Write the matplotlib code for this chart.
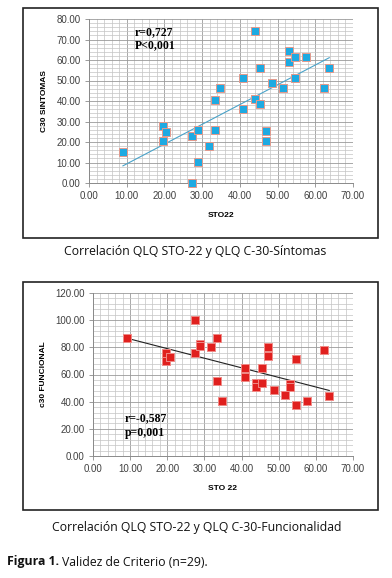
import numpy as np
import matplotlib
matplotlib.use("Agg")
import matplotlib.pyplot as plt
from matplotlib.patches import Rectangle
from matplotlib.ticker import MultipleLocator, FormatStrFormatter

# ---- data ----
sto22_top = [9.0, 19.6, 19.6, 20.5, 27.2, 27.3, 28.8, 28.8, 31.7, 33.3, 33.3, 34.7,
             40.8, 40.8, 43.9, 43.9, 45.4, 45.4, 46.9, 46.9, 48.5, 51.5, 53.0, 53.0,
             54.6, 54.6, 57.6, 62.2, 63.7]
c30_sintomas = [15.2, 27.9, 20.4, 24.7, 22.9, 0.0, 25.8, 10.4, 18.0, 40.5, 25.8, 46.2,
                51.1, 35.9, 41.0, 74.3, 56.2, 38.5, 25.6, 20.6, 48.8, 46.2, 64.2, 58.8,
                61.6, 51.3, 61.6, 46.2, 56.2]

sto22_bot = [9.2, 19.7, 19.7, 20.7, 27.4, 27.4, 28.8, 28.8, 31.9, 33.4, 33.4, 34.8,
             41.0, 41.0, 43.9, 43.9, 45.5, 45.5, 47.1, 47.1, 48.6, 51.6, 53.1, 53.1,
             54.6, 54.6, 57.6, 62.1, 63.6]
c30_funcional = [86.9, 75.8, 69.7, 72.9, 100.1, 75.8, 82.7, 80.7, 80.2, 86.9, 55.5, 40.2,
                 64.8, 58.2, 53.7, 51.0, 53.7, 64.5, 80.2, 73.4, 48.8, 44.7, 53.3, 51.0,
                 71.4, 37.8, 40.2, 77.8, 44.4]

W, H = 392, 578
fig = plt.figure(figsize=(W / 100, H / 100), dpi=100)

def px_rect(x0, y0, x1, y1):
    return [x0 / W, 1 - y1 / H, (x1 - x0) / W, (y1 - y0) / H]

# frames
for (x0, y0, x1, y1) in [(23, 8, 378, 238), (23, 282, 378, 510)]:
    fig.patches.append(Rectangle((x0 / W, 1 - y1 / H), (x1 - x0) / W, (y1 - y0) / H,
                                 transform=fig.transFigure, fill=False,
                                 edgecolor="#222222", linewidth=1.2))

tick_font = dict(family="Liberation Sans", size=7, color="#404040")

def setup(ax, ymax, ymaj, ymin):
    ax.set_xlim(0, 70)
    ax.set_ylim(0, ymax)
    ax.xaxis.set_major_locator(MultipleLocator(10))
    ax.xaxis.set_minor_locator(MultipleLocator(2))
    ax.yaxis.set_major_locator(MultipleLocator(ymaj))
    ax.yaxis.set_minor_locator(MultipleLocator(ymin))
    ax.xaxis.set_major_formatter(FormatStrFormatter("%.2f"))
    ax.yaxis.set_major_formatter(FormatStrFormatter("%.2f"))
    ax.grid(which="major", color="#9a9a9a", linewidth=0.6)
    ax.grid(which="minor", color="#c4c4c4", linewidth=0.5)
    ax.set_axisbelow(True)
    for s in ["top", "right"]:
        ax.spines[s].set_visible(False)
    for s in ["left", "bottom"]:
        ax.spines[s].set_color("#8a8a8a")
        ax.spines[s].set_linewidth(0.7)
    ax.tick_params(which="major", length=3, width=0.6, color="#8a8a8a", pad=3)
    ax.tick_params(which="minor", length=0)
    for lab in ax.get_xticklabels() + ax.get_yticklabels():
        lab.set_fontfamily(tick_font["family"])
        lab.set_fontsize(tick_font["size"])
        lab.set_color(tick_font["color"])

# top chart
ax1 = fig.add_axes(px_rect(89, 19, 353, 183))
setup(ax1, 80, 10, 2)
x1 = np.array(sto22_top); y1 = np.array(c30_sintomas)
m, b = np.polyfit(x1, y1, 1)
xs = np.array([x1.min(), x1.max()])
ax1.plot(xs, m * xs + b, color="#4aa3c9", linewidth=0.8, zorder=2)
ax1.scatter(x1, y1, marker="s", s=34, facecolor="#1eaae2", edgecolor="#e49a8c",
            linewidth=0.7, zorder=3, clip_on=False)
ax1.set_xlabel("STO22", fontfamily="Liberation Sans", fontweight="bold", fontsize=6, labelpad=8)
ax1.set_ylabel("C30 SINTOMAS", fontfamily="Liberation Sans", fontweight="bold", fontsize=6, labelpad=6)
ax1.text(135 / W, 1 - 32 / H, "r=0,727", transform=fig.transFigure, family="Liberation Serif",
         fontweight="bold", fontsize=8.5, va="center", ha="left")
ax1.text(135 / W, 1 - 45 / H, "P<0,001", transform=fig.transFigure, family="Liberation Serif",
         fontweight="bold", fontsize=8.5, va="center", ha="left")

# bottom chart
ax2 = fig.add_axes(px_rect(93, 293, 353, 456))
setup(ax2, 120, 20, 4)
x2 = np.array(sto22_bot); y2 = np.array(c30_funcional)
m2, b2 = np.polyfit(x2, y2, 1)
xs2 = np.array([x2.min(), x2.max()])
ax2.plot(xs2, m2 * xs2 + b2, color="#222222", linewidth=0.8, zorder=2)
ax2.scatter(x2, y2, marker="s", s=34, facecolor="#e0201e", edgecolor="#f08a86",
            linewidth=0.7, zorder=3, clip_on=False)
ax2.set_xlabel("STO 22", fontfamily="Liberation Sans", fontweight="bold", fontsize=6, labelpad=8)
ax2.set_ylabel("c30 FUNCIONAL", fontfamily="Liberation Sans", fontweight="bold", fontsize=6, labelpad=6)
ax2.text(125 / W, 1 - 418 / H, "r=-0,587", transform=fig.transFigure, family="Liberation Serif",
         fontweight="bold", fontsize=8.5, va="center", ha="left")
ax2.text(125 / W, 1 - 433 / H, "p=0,001", transform=fig.transFigure, family="Liberation Serif",
         fontweight="bold", fontsize=8.5, va="center", ha="left")

# captions
fig.text(195 / W, 1 - 252 / H, "Correlación QLQ STO-22 y QLQ C-30-Síntomas",
         family="Open Sans", fontsize=8.8, ha="center", va="center", color="#111111")
fig.text(197 / W, 1 - 527 / H, "Correlación QLQ STO-22 y QLQ C-30-Funcionalidad",
         family="Open Sans", fontsize=8.8, ha="center", va="center", color="#111111")
t_fig = fig.text(7 / W, 1 - 562 / H, "Figura 1.", family="Open Sans", fontweight="bold",
                 fontsize=8.8, ha="left", va="center", color="#111111")
fig.canvas.draw()
bb = t_fig.get_window_extent(renderer=fig.canvas.get_renderer())
fig.text((bb.x1 + 3) / W, 1 - 562 / H, "Validez de Criterio (n=29).", family="Open Sans",
         fontsize=8.8, ha="left", va="center", color="#111111")

fig.savefig("out.png", dpi=100)
